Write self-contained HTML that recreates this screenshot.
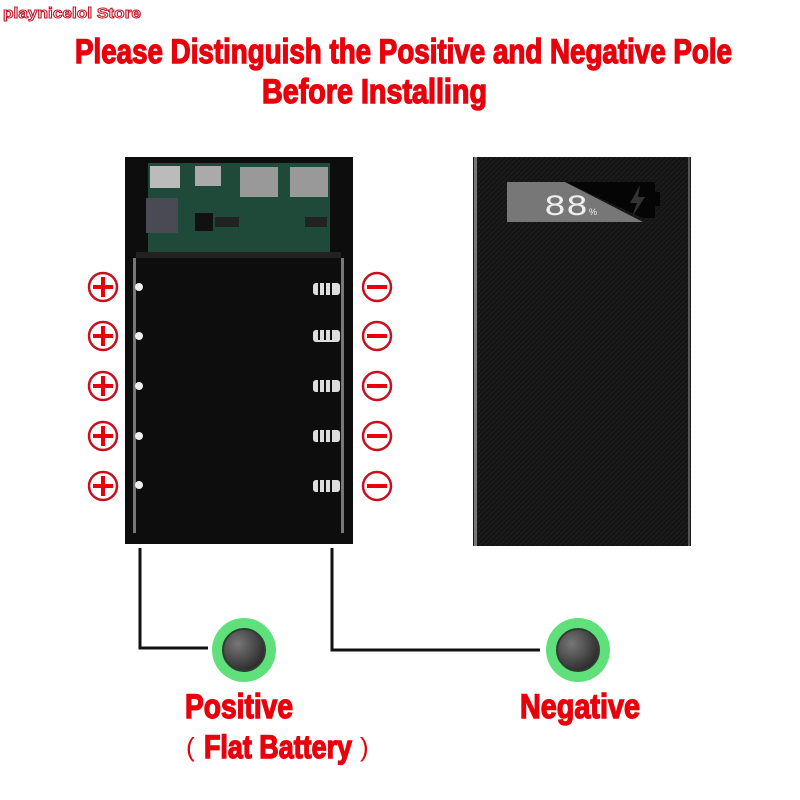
<!DOCTYPE html>
<html><head><meta charset="utf-8"><style>
html,body{margin:0;padding:0;background:#fff;width:800px;height:800px;overflow:hidden}
svg{display:block}
</style></head><body>
<svg width="800" height="800" viewBox="0 0 800 800" xmlns="http://www.w3.org/2000/svg">
<defs>
<radialGradient id="btn" cx="0.35" cy="0.35" r="0.7"><stop offset="0" stop-color="#777"/><stop offset="1" stop-color="#2a2a2a"/></radialGradient>
<pattern id="tex" width="5" height="5" patternUnits="userSpaceOnUse"><rect width="5" height="5" fill="#141414"/><path d="M0 5L5 0" stroke="#1f1f1f" stroke-width="1"/></pattern>
</defs>
<text x="3" y="18" font-family="Liberation Sans, sans-serif" font-weight="bold" font-size="15" fill="#fff" stroke="#c0182a" stroke-width="1" textLength="138" lengthAdjust="spacingAndGlyphs">playnicelol Store</text>
<g font-family="Liberation Sans, sans-serif" font-weight="bold" fill="#e8000b" stroke="#e8000b" stroke-width="1.4">
<text x="75" y="63" font-size="34" textLength="657" lengthAdjust="spacingAndGlyphs">Please Distinguish the Positive and Negative Pole</text>
<text x="262" y="103" font-size="34" textLength="225" lengthAdjust="spacingAndGlyphs">Before Installing</text>
<text x="185" y="718" font-size="34" textLength="108" lengthAdjust="spacingAndGlyphs">Positive</text>
<text x="520" y="718" font-size="34" textLength="120" lengthAdjust="spacingAndGlyphs">Negative</text>
<text x="204" y="758" font-size="32" textLength="148" lengthAdjust="spacingAndGlyphs">Flat Battery</text>
</g>
<text x="186" y="756" font-family="Liberation Sans, sans-serif" font-size="26" fill="#e8000b">(</text>
<text x="360" y="756" font-family="Liberation Sans, sans-serif" font-size="26" fill="#e8000b">)</text>

<!-- left box -->
<rect x="125" y="157" width="228" height="387" fill="#0d0d0d"/>
<rect x="148" y="163" width="182" height="95" fill="#1f4a3a"/>
<rect x="150" y="166" width="30" height="22" fill="#bbb"/>
<rect x="195" y="166" width="26" height="20" fill="#aaa"/>
<rect x="240" y="167" width="38" height="30" fill="#999"/>
<rect x="290" y="167" width="38" height="30" fill="#999"/>
<rect x="146" y="198" width="32" height="35" fill="#4a4a55"/>
<rect x="195" y="213" width="18" height="18" fill="#111"/>
<rect x="215" y="217" width="24" height="10" fill="#222"/>
<rect x="305" y="217" width="22" height="10" fill="#222"/>
<rect x="133" y="258" width="3" height="275" fill="#777"/>
<rect x="341" y="258" width="3" height="275" fill="#777"/>
<rect x="136" y="252" width="205" height="6" fill="#222"/>
<g fill="#eee">
<circle cx="139" cy="287" r="4"/><circle cx="139" cy="336" r="4"/><circle cx="139" cy="386" r="4"/><circle cx="139" cy="436" r="4"/><circle cx="139" cy="485" r="4"/>
</g>
<g fill="#ddd">
<rect x="313" y="283" width="27" height="12" rx="3"/><rect x="313" y="330" width="27" height="12" rx="3"/><rect x="313" y="380" width="27" height="12" rx="3"/><rect x="313" y="430" width="27" height="12" rx="3"/><rect x="313" y="480" width="27" height="12" rx="3"/>
</g>
<g stroke="#0d0d0d" stroke-width="2">
<path d="M319 280v60M325 280v60M331 280v60M319 375v120M325 375v120M331 375v120"/>
</g>
<!-- plus/minus -->
<g fill="none" stroke="#c8101e" stroke-width="2.5">
<circle cx="103" cy="287" r="14"/><circle cx="103" cy="336" r="14"/><circle cx="103" cy="386" r="14"/><circle cx="103" cy="436" r="14"/><circle cx="103" cy="486" r="14"/>
<circle cx="377" cy="287" r="14"/><circle cx="377" cy="336" r="14"/><circle cx="377" cy="386" r="14"/><circle cx="377" cy="436" r="14"/><circle cx="377" cy="486" r="14"/>
</g>
<g stroke="#e8000b" stroke-width="4">
<path d="M93 287h20M103 277v20M93 336h20M103 326v20M93 386h20M103 376v20M93 436h20M103 426v20M93 486h20M103 476v20"/>
<path d="M367 287h20M367 336h20M367 386h20M367 436h20M367 486h20"/>
</g>

<!-- right box -->
<rect x="473" y="157" width="218" height="389" fill="url(#tex)"/>
<rect x="474" y="157" width="3" height="389" fill="#777"/>
<rect x="688" y="157" width="2" height="389" fill="#555"/>
<path d="M507 182H565L643 222H507Z" fill="#777"/>
<path d="M565 182H655V218H643Z" fill="#050505"/>
<rect x="655" y="192" width="5" height="14" fill="#050505"/>
<text x="544" y="215" font-family="Liberation Mono, monospace" font-size="30" fill="#eee" textLength="44" lengthAdjust="spacingAndGlyphs">88</text>
<text x="589" y="215" font-family="Liberation Sans, sans-serif" font-size="9" fill="#eee">%</text>
<path d="M640 185L630 203H637L632 217L645 197H638Z" fill="#333"/>

<!-- connectors -->
<g fill="none" stroke="#111" stroke-width="3">
<path d="M140 548V648H208"/>
<path d="M332 548V650H540"/>
</g>
<circle cx="244" cy="650" r="32" fill="#5fe07a"/>
<circle cx="244" cy="650" r="21" fill="url(#btn)" stroke="#2e3e32" stroke-width="2"/>
<circle cx="578" cy="650" r="32" fill="#5fe07a"/>
<circle cx="578" cy="650" r="21" fill="url(#btn)" stroke="#2e3e32" stroke-width="2"/>
</svg>
</body></html>
